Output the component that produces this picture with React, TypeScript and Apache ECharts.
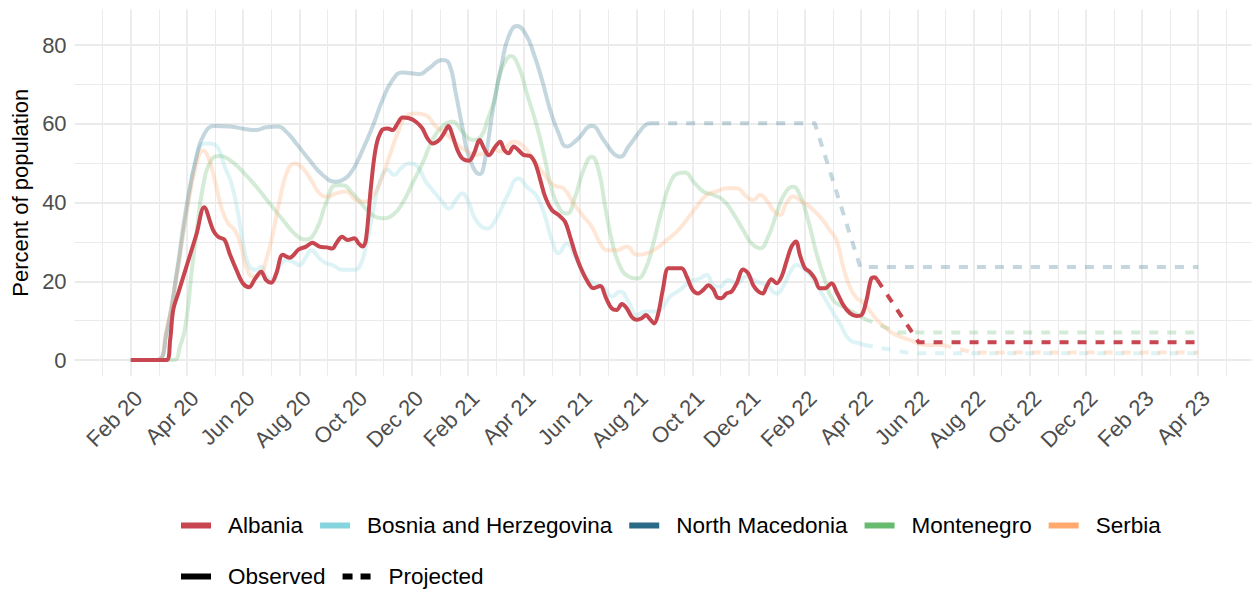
import React, { useEffect, useRef } from "react";
import * as echarts from "echarts";

// x values are months since 1 Jan 2020 (1 = Feb 2020, 39 = Apr 2023)
const countries = ["Albania", "Bosnia and Herzegovina", "North Macedonia", "Montenegro", "Serbia"];
const countryColors = ["#C84650", "#86D4DE", "#2B6A87", "#66BB6E", "#FFA96F"];

const xTickMonths = [1, 3, 5, 7, 9, 11, 13, 15, 17, 19, 21, 23, 25, 27, 29, 31, 33, 35, 37, 39];
const xTickLabels = [
  "Feb 20", "Apr 20", "Jun 20", "Aug 20", "Oct 20", "Dec 20",
  "Feb 21", "Apr 21", "Jun 21", "Aug 21", "Oct 21", "Dec 21",
  "Feb 22", "Apr 22", "Jun 22", "Aug 22", "Oct 22", "Dec 22",
  "Feb 23", "Apr 23",
];
const yTickLabels = [0, 20, 40, 60, 80];
const yMinorTicks = [10, 30, 50, 70];

const albaniaObserved = [
  [1, 0], [2.27, 0], [2.4, 5], [2.51, 12.7], [2.69, 17], [2.98, 23.7], [3.34, 32], [3.61, 38.8],
  [3.93, 33], [4.11, 31.3], [4.34, 30.5], [4.52, 27], [4.76, 22.9], [4.99, 19.5], [5.21, 18.5],
  [5.43, 20.7], [5.64, 22.4], [5.82, 20.3], [6.0, 19.6], [6.18, 22], [6.41, 26.7], [6.65, 26],
  [6.98, 28.1], [7.24, 28.8], [7.46, 29.8], [7.72, 28.8], [7.98, 28.6], [8.17, 28.3], [8.33, 29.8],
  [8.52, 31.3], [8.72, 30.5], [8.96, 30.9], [9.11, 29.6], [9.25, 28.8], [9.37, 30.5], [9.55, 44],
  [9.73, 54.2], [9.94, 58.4], [10.14, 58.8], [10.32, 58.4], [10.5, 60.1], [10.67, 61.6], [10.91, 61.4],
  [11.15, 60.5], [11.38, 58.8], [11.56, 56.3], [11.74, 55], [11.98, 55.9], [12.15, 57.6], [12.31, 59.4],
  [12.45, 57.1], [12.63, 53.3], [12.8, 51.2], [13.04, 50.6], [13.22, 52.5], [13.42, 55.9], [13.57, 53.8],
  [13.75, 52], [13.98, 54.2], [14.15, 55.4], [14.3, 53.3], [14.45, 52.5], [14.63, 54.2], [14.8, 53.3],
  [14.98, 52.1], [15.22, 51.8], [15.4, 49.9], [15.58, 45.7], [15.75, 41.5], [15.99, 38.1], [16.23, 36.8],
  [16.46, 35.1], [16.64, 31.3], [16.82, 27.1], [17.0, 23.7], [17.23, 20.3], [17.47, 18.2], [17.71, 18.8],
  [17.92, 15.7], [18.12, 13.1], [18.3, 12.7], [18.48, 14.2], [18.66, 13.1], [18.83, 11], [19.01, 10.2],
  [19.19, 10.6], [19.34, 11.4], [19.49, 10.3], [19.63, 9.3], [19.78, 11.9], [19.94, 17.8], [20.14, 23.3],
  [20.37, 23.3], [20.61, 23.3], [20.79, 21.2], [21.0, 17.8], [21.2, 16.9], [21.38, 17.8], [21.56, 19],
  [21.74, 17.9], [21.88, 15.9], [22.03, 15.7], [22.21, 16.9], [22.39, 17.4], [22.57, 19.5], [22.8, 23],
  [22.98, 22], [23.16, 19], [23.34, 17.4], [23.5, 16.9], [23.63, 18.6], [23.81, 20.5], [23.99, 19.5],
  [24.17, 21.2], [24.34, 25], [24.52, 28.8], [24.68, 30.1], [24.82, 26.7], [25.0, 23.3], [25.17, 22.4],
  [25.35, 20.7], [25.53, 18.2], [25.71, 18.2], [25.95, 19.5], [26.12, 17.4], [26.36, 14], [26.6, 11.9],
  [26.83, 11.2], [27.01, 11.4], [27.19, 15.2], [27.36, 20.7], [27.48, 21], [27.57, 20.4],
];
const albaniaProjected = [[27.57, 20.4], [29.05, 4.5], [39, 4.5]];

const bosniaObserved = [
  [1, 0], [1.92, 0], [2.27, 6.8], [2.63, 21.2], [2.98, 37.2], [3.34, 51.6], [3.63, 55], [3.87, 54.9],
  [4.11, 53.8], [4.34, 49.1], [4.58, 44.9], [4.82, 37.2], [5.02, 28.8], [5.23, 23.7], [5.47, 22.9],
  [5.64, 23.7], [5.82, 21.2], [6.06, 20.3], [6.3, 23.7], [6.53, 25.4], [6.77, 25], [7.0, 24.1],
  [7.24, 26.2], [7.42, 27.9], [7.72, 25.8], [7.95, 24.6], [8.19, 24.1], [8.54, 22.9], [8.9, 22.9],
  [9.14, 23.7], [9.37, 28.8], [9.61, 37.2], [9.85, 44.9], [10.14, 48.3], [10.38, 47], [10.62, 48.7],
  [10.91, 49.9], [11.21, 49.1], [11.5, 45.3], [11.74, 43.2], [12.04, 40.6], [12.33, 38.5], [12.57, 40.6],
  [12.8, 42.3], [13.04, 39.8], [13.28, 35.6], [13.69, 33.4], [13.99, 35.6], [14.39, 41.5], [14.81, 46.1],
  [15.1, 44], [15.46, 41.5], [15.75, 36.4], [15.99, 30.5], [16.23, 27.1], [16.52, 29.6], [16.82, 26.2],
  [17.12, 22], [17.47, 19.5], [17.83, 18.6], [18.12, 16.1], [18.42, 17.4], [18.72, 14.8], [19.01, 11.4],
  [19.31, 12.3], [19.6, 12.3], [19.9, 13.1], [20.2, 16.1], [20.55, 17.8], [20.91, 19.9], [21.26, 20.7],
  [21.5, 21.6], [21.74, 19], [21.97, 18.6], [22.27, 20.3], [22.57, 19.5], [22.92, 21.2], [23.28, 19.9],
  [23.63, 19], [23.99, 16.9], [24.28, 19.5], [24.52, 22.9], [24.7, 24.1], [24.94, 23.3], [25.23, 21.2],
  [25.53, 17.8], [25.88, 13.5], [26.24, 9.3], [26.59, 5.1], [26.95, 4.2], [27.1, 3.8],
];
const bosniaProjected = [[27.1, 3.8], [28.8, 1.7], [39, 1.7]];

const northMacedoniaObserved = [
  [1, 0], [1.92, 0], [2.27, 6.8], [2.63, 22], [2.98, 38.9], [3.34, 51.6], [3.63, 57.6], [3.99, 59.4],
  [4.52, 59.3], [5.11, 58.6], [5.47, 58.4], [5.82, 59.1], [6.24, 59.3], [6.53, 58], [6.89, 55],
  [7.36, 50.8], [7.83, 47], [8.31, 45.3], [8.54, 45.7], [8.9, 48.3], [9.25, 53.3], [9.61, 59.3],
  [9.96, 66], [10.32, 71.1], [10.67, 73], [11.27, 72.6], [11.62, 74.1], [12.09, 76.2], [12.33, 75.3],
  [12.57, 67.7], [12.8, 59.3], [13.04, 51.6], [13.42, 47.2], [13.6, 50.5], [13.9, 64], [14.21, 75.3],
  [14.45, 82.1], [14.75, 84.8], [15.04, 83], [15.34, 77.9], [15.64, 71.1], [15.93, 63.5], [16.23, 57.6],
  [16.52, 54.2], [16.88, 55.9], [17.41, 59.4], [17.83, 55.9], [18.18, 52.5], [18.42, 51.6], [18.72, 54.2],
  [19.07, 57.6], [19.37, 59.9], [19.49, 60.1],
];
const northMacedoniaProjected = [[19.49, 60.1], [25.35, 60.1], [26.97, 23.6], [39, 23.6]];

const montenegroObserved = [
  [1, 0], [2.51, 0], [2.75, 3.4], [2.98, 10.2], [3.16, 22], [3.34, 32.2], [3.57, 44], [3.87, 50.8],
  [4.17, 51.8], [4.52, 50.8], [4.99, 47.8], [5.47, 44], [5.94, 39.8], [6.41, 35.6], [6.89, 31.7],
  [7.24, 30.6], [7.6, 33], [7.95, 39.8], [8.31, 44.4], [8.54, 44.4], [8.9, 42.3], [9.25, 39.4],
  [9.61, 36.8], [9.96, 36], [10.32, 36.8], [10.67, 39.8], [11.03, 44.9], [11.38, 49.9], [11.74, 55.9],
  [12.09, 59.3], [12.45, 60.5], [12.8, 58], [13.16, 55.9], [13.46, 56.7], [13.7, 61], [13.92, 65.5],
  [14.1, 71.5], [14.27, 75], [14.53, 77.2], [14.81, 74.5], [15.1, 67.7], [15.46, 59.3], [15.75, 50.8],
  [15.99, 43.2], [16.29, 38.1], [16.52, 37.2], [16.82, 41.5], [17.12, 48.3], [17.41, 51.6], [17.65, 48.3],
  [17.89, 38.9], [18.12, 30.5], [18.42, 23.7], [18.72, 21.2], [19.01, 20.7], [19.31, 22.9], [19.6, 29.6],
  [19.9, 38.1], [20.2, 44.9], [20.49, 47.4], [20.73, 47.6], [21.03, 45.3], [21.38, 42.8], [21.74, 41.9],
  [22.09, 40.6], [22.45, 37.2], [22.8, 33], [23.1, 29.6], [23.4, 28.4], [23.69, 31.3], [23.99, 37.2],
  [24.28, 42.3], [24.58, 44], [24.82, 41.9], [25.11, 35.6], [25.41, 27.1], [25.71, 20.3], [26.0, 15.2],
  [26.36, 13.5], [26.6, 12.6], [26.95, 11.2], [27.1, 10.5],
];
const montenegroProjected = [[27.1, 10.5], [28.3, 7.0], [39, 7.0]];

const serbiaObserved = [
  [1, 0], [1.92, 0], [2.27, 7.6], [2.63, 21.2], [2.98, 37.2], [3.34, 49.9], [3.57, 53.2], [3.75, 51.6],
  [3.99, 45.7], [4.22, 38.9], [4.46, 34.7], [4.7, 33], [4.93, 28.8], [5.11, 23.7], [5.35, 21.2],
  [5.59, 21.6], [5.82, 25.4], [6.06, 32.2], [6.3, 40.6], [6.59, 48.3], [6.83, 49.9], [7.12, 48.7],
  [7.42, 45.7], [7.72, 42.3], [8.01, 41.5], [8.31, 42.3], [8.66, 42.8], [9.02, 40.6], [9.31, 40.2],
  [9.61, 41.5], [9.91, 45.7], [10.2, 51.6], [10.5, 57.6], [10.79, 61.8], [11.15, 62.6], [11.5, 62.2],
  [11.86, 59.3], [12.21, 57.6], [12.57, 55], [12.92, 53.3], [13.28, 52.1], [13.63, 52.5], [13.99, 53.5],
  [14.15, 52.9], [14.63, 55.4], [14.98, 54.2], [15.34, 50.8], [15.69, 47.4], [16.05, 44.4], [16.4, 43.6],
  [16.76, 39.8], [17.12, 36.4], [17.41, 33.9], [17.71, 29.6], [17.95, 27.9], [18.3, 27.9], [18.66, 28.8],
  [19.01, 26.7], [19.37, 27.1], [19.73, 28.4], [20.08, 30.5], [20.44, 32.6], [20.79, 35.6], [21.14, 38.9],
  [21.5, 41.9], [21.86, 42.8], [22.21, 43.6], [22.57, 43.6], [22.92, 41.5], [23.16, 40.6], [23.4, 41.9],
  [23.63, 40.6], [23.87, 38.1], [24.11, 36.8], [24.34, 39.8], [24.58, 41.5], [24.82, 40.6], [25.17, 38.9],
  [25.53, 36.4], [25.88, 33], [26.12, 30.5], [26.36, 23.7], [26.6, 18.5], [26.83, 15.8], [27.08, 14.5],
  [27.54, 10.4], [27.9, 8], [28.2, 6.5], [28.74, 5.1], [29.34, 3.8], [29.9, 3.8],
];
const serbiaProjected = [[29.9, 3.8], [31, 1.9], [39, 1.9]];

const FONT = "'Liberation Sans', Arial, Helvetica, sans-serif";
const GRID_COLOR = "#EBEBEB";
const CLEAR = "rgba(0,0,0,0)";

const X_MIN = -1;
const X_MAX = 40.9;
const Y_MIN = -4;
const Y_MAX = 89;

function xColors(major: boolean) {
  const out: string[] = [];
  for (let v = X_MIN; v <= Math.floor(X_MAX); v++) {
    const isMajor = xTickMonths.includes(v);
    const isMinor = !isMajor && v >= 0 && v <= 40;
    out.push(major ? (isMajor ? GRID_COLOR : CLEAR) : isMinor ? GRID_COLOR : CLEAR);
  }
  out.push(CLEAR);
  return out;
}
function yColors(major: boolean) {
  const out: string[] = [];
  for (let v = Y_MIN; v <= Y_MAX; v++) {
    const isMajor = yTickLabels.includes(v);
    const isMinor = yMinorTicks.includes(v);
    out.push(major ? (isMajor ? GRID_COLOR : CLEAR) : isMinor ? GRID_COLOR : CLEAR);
  }
  out.push(CLEAR);
  return out;
}

function makeSeries(name: string, data: number[][], color: string, opacity: number, dashed: boolean, z: number, smooth: number) {
  return {
    type: "line",
    name,
    data,
    color,
    itemStyle: { color },
    symbol: "none",
    showSymbol: false,
    smooth: dashed ? false : smooth,
    silent: true,
    z,
    emphasis: { disabled: true },
    lineStyle: {
      color,
      width: 4,
      opacity,
      type: dashed ? [9, 9] : "solid",
      cap: "butt",
      join: "round",
    },
  };
}

const observedData = [albaniaObserved, bosniaObserved, northMacedoniaObserved, montenegroObserved, serbiaObserved];
const projectedData = [albaniaProjected, bosniaProjected, northMacedoniaProjected, montenegroProjected, serbiaProjected];

export default function App() {
  const ref = useRef<HTMLDivElement>(null);
  useEffect(() => {
    if (!ref.current) return;
    const chart = echarts.init(ref.current, null, { renderer: "svg", width: 1252, height: 595 });

    const series: any[] = [];
    for (let i = 1; i < countries.length; i++) {
      series.push(makeSeries(countries[i], observedData[i], countryColors[i], 0.28, false, 2, 0.5));
      series.push(makeSeries(countries[i], projectedData[i], countryColors[i], 0.28, true, 2, 0));
    }
    series.push(makeSeries(countries[0], observedData[0], countryColors[0], 1, false, 5, 0.35));
    series.push(makeSeries(countries[0], projectedData[0], countryColors[0], 1, true, 5, 0));
    series.push({ type: "line", name: "Observed", data: [], color: "#000", itemStyle: { color: "#000" } });
    series.push({ type: "line", name: "Projected", data: [], color: "#000", itemStyle: { color: "#000" } });

    const pxPerMonth = 28.09;
    const pxPerUnit = 3.9375;
    const gridLeft = 102.7 + X_MIN * pxPerMonth;
    const gridTop = 360 - Y_MAX * pxPerUnit;

    const legendText = { fontSize: 22.5, color: "#000", fontFamily: FONT, padding: [0, 0, 0, 12] };

    chart.setOption({
      animation: false,
      backgroundColor: "#fff",
      grid: {
        left: gridLeft,
        top: gridTop,
        width: (X_MAX - X_MIN) * pxPerMonth,
        height: (Y_MAX - Y_MIN) * pxPerUnit,
        containLabel: false,
        outerBoundsMode: "none",
      },
      xAxis: [
        {
          type: "value",
          min: X_MIN,
          max: X_MAX,
          interval: 1,
          axisLine: { show: false },
          axisTick: { show: false },
          splitLine: { show: true, lineStyle: { color: xColors(true), width: 1.8 } },
          axisLabel: {
            rotate: 45,
            align: "right",
            verticalAlign: "top",
            margin: 11,
            fontSize: 22,
            color: "#4D4D4D",
            fontFamily: FONT,
            showMinLabel: true,
            showMaxLabel: true,
            formatter: (v: number) => {
              const r = Math.round(v);
              if (Math.abs(v - r) > 1e-6) return "";
              const idx = xTickMonths.indexOf(r);
              return idx >= 0 ? xTickLabels[idx] : "";
            },
          },
        },
        {
          type: "value",
          min: X_MIN,
          max: X_MAX,
          interval: 1,
          position: "bottom",
          axisLine: { show: false },
          axisTick: { show: false },
          axisLabel: { show: false },
          splitLine: { show: true, lineStyle: { color: xColors(false), width: 1 } },
        },
      ],
      yAxis: [
        {
          type: "value",
          min: Y_MIN,
          max: Y_MAX,
          interval: 1,
          name: "Percent of population",
          nameLocation: "middle",
          nameGap: 43,
          nameTextStyle: { fontSize: 22, color: "#000", fontFamily: FONT },
          axisLine: { show: false },
          axisTick: { show: false },
          splitLine: { show: true, lineStyle: { color: yColors(true), width: 1.8 } },
          axisLabel: {
            margin: 8,
            fontSize: 22,
            color: "#4D4D4D",
            fontFamily: FONT,
            formatter: (v: number) => (yTickLabels.includes(v) ? String(v) : ""),
          },
        },
        {
          type: "value",
          min: Y_MIN,
          max: Y_MAX,
          interval: 1,
          position: "left",
          axisLine: { show: false },
          axisTick: { show: false },
          axisLabel: { show: false },
          splitLine: { show: true, lineStyle: { color: yColors(false), width: 1 } },
        },
      ],
      legend: [
        {
          data: countries.map((c, i) => ({ name: c, icon: "rect", itemStyle: { color: countryColors[i], opacity: 1 } })),
          left: 181,
          top: 514,
          padding: 0,
          orient: "horizontal",
          itemWidth: 30,
          itemHeight: 6,
          itemGap: 17,
          selectedMode: false,
          textStyle: legendText,
        },
        {
          data: [
            { name: "Observed", icon: "rect" },
            { name: "Projected", icon: "path://M0,0H10V6H0Z M18,0H28V6H18Z" },
          ],
          left: 181,
          top: 565,
          padding: 0,
          orient: "horizontal",
          itemWidth: 30,
          itemHeight: 6,
          itemGap: 17,
          selectedMode: false,
          textStyle: legendText,
        },
      ],
      series,
    });
    return () => chart.dispose();
  }, []);
  return (
    <div
      ref={ref}
      style={{ position: "absolute", left: 0, top: 0, width: 1252, height: 595, background: "#fff" }}
    />
  );
}
